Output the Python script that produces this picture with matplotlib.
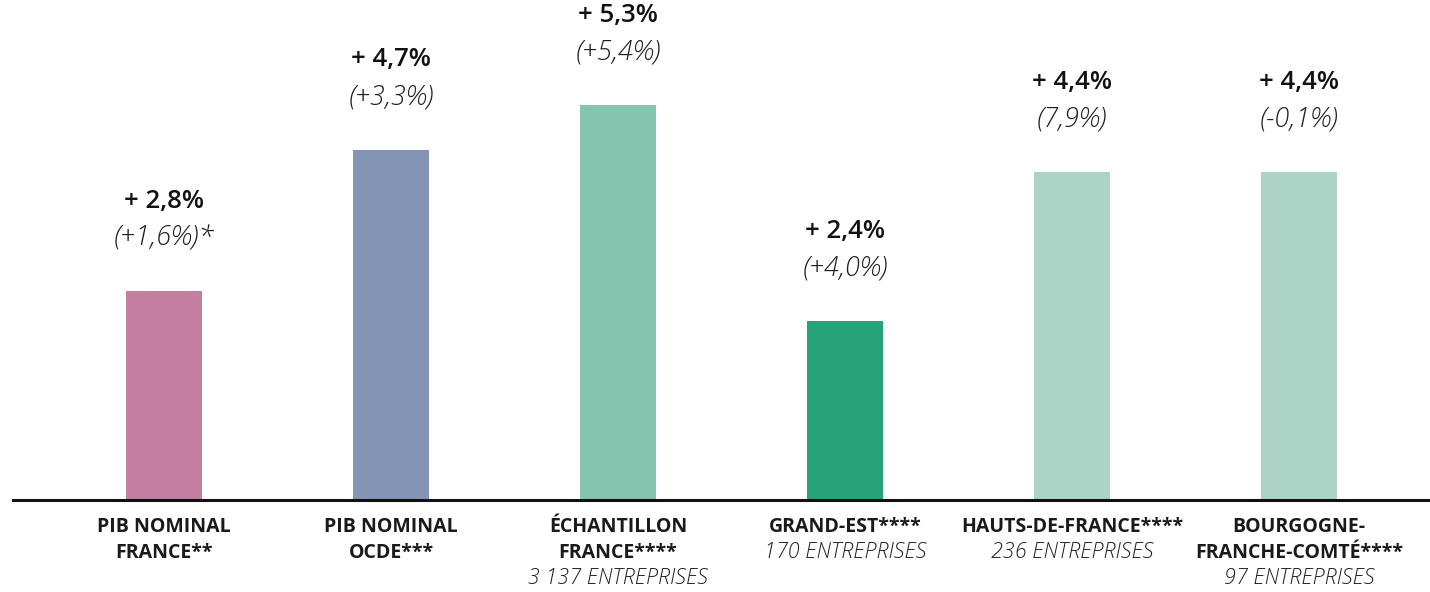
import matplotlib.pyplot as plt

# values
categories = ['PIB NOMINAL\nFRANCE**', 'PIB NOMINAL\nOCDE***', 'ÉCHANTILLON\nFRANCE****',
              'GRAND-EST****', 'HAUTS-DE-FRANCE****', 'BOURGOGNE-\nFRANCHE-COMTÉ****']
subtitles = ['', '', '3 137 ENTREPRISES', '170 ENTREPRISES', '236 ENTREPRISES', '97 ENTREPRISES']
growth = [2.8, 4.7, 5.3, 2.4, 4.4, 4.4]
growth_labels = ['+ 2,8%', '+ 4,7%', '+ 5,3%', '+ 2,4%', '+ 4,4%', '+ 4,4%']
prev_labels = ['(+1,6%)*', '(+3,3%)', '(+5,4%)', '(+4,0%)', '(7,9%)', '(-0,1%)']
colors = ['#C47FA0', '#8494B5', '#85C5AF', '#27A37A', '#ADD3C6', '#ADD3C6']

plt.rcParams['font.family'] = ['Open Sans', 'DejaVu Sans']

fig = plt.figure(figsize=(14.3, 5.92), dpi=100)
ax = fig.add_axes([13 / 1430, 92 / 592, 1417 / 1430, 500 / 592])

x = list(range(len(categories)))
ax.bar(x, growth, width=0.335, color=colors)

ax.set_xlim(-0.665, 5.577)
ax.set_ylim(0, 500 / 74.5)
for s in ['top', 'right', 'left']:
    ax.spines[s].set_visible(False)
ax.spines['bottom'].set_linewidth(2.2)
ax.spines['bottom'].set_color('#111111')
ax.set_xticks([])
ax.set_yticks([])

px = 72 / 100  # points per pixel

for i, v in enumerate(growth):
    ax.annotate(growth_labels[i], (i, v), xytext=(0, 90 * px), textcoords='offset points',
                ha='center', va='center', fontsize=18.5, fontweight='semibold', color='#111111')
    ax.annotate(prev_labels[i], (i, v), xytext=(0, 53 * px), textcoords='offset points',
                ha='center', va='center', fontsize=19.5, fontstyle='italic', fontweight='light',
                color='#1e1e1e')

    lines = categories[i].split('\n')
    for j, line in enumerate(lines):
        ax.annotate(line, (i, 0), xytext=(0, -(27 + 25.5 * j) * px), textcoords='offset points',
                    ha='center', va='center', fontsize=14, fontweight='bold', color='#1a1a1a')
    if subtitles[i]:
        ax.annotate(subtitles[i], (i, 0), xytext=(0, -(27 + 25.5 * len(lines)) * px),
                    textcoords='offset points', ha='center', va='center', fontsize=15.5,
                    fontstyle='italic', fontweight='light', color='#1e1e1e')

fig.savefig('out.png', dpi=100)
